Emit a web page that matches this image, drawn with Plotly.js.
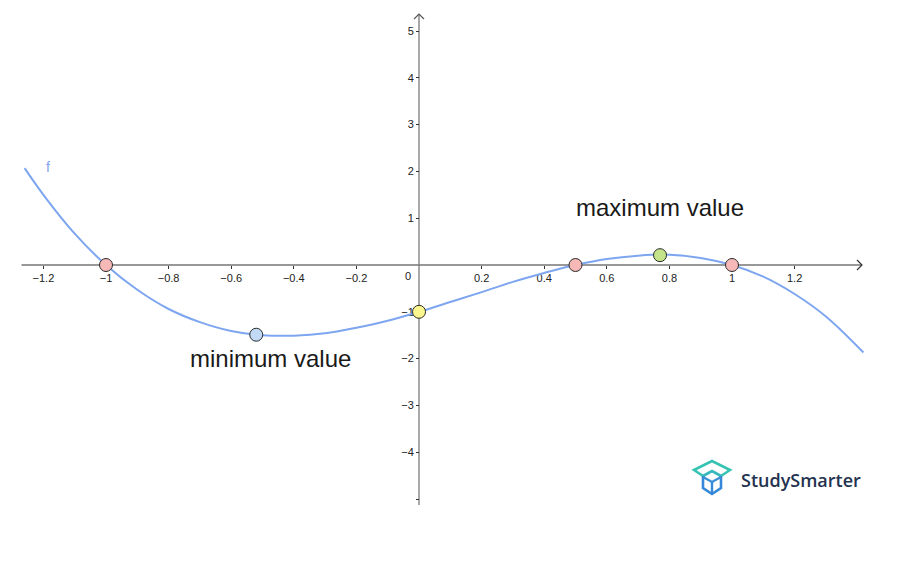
<!DOCTYPE html>
<html>
<head>
<meta charset="utf-8">
<script src="https://cdn.plot.ly/plotly-3.0.1.min.js"></script>
<style>html,body{margin:0;padding:0;background:#fff;}#chart{width:909px;height:574px;}</style>
</head>
<body>
<div id="chart"></div>
<script>
// Curve f
const curveX = [-1.26, -1.2, -1.1, -1.0, -0.9, -0.8, -0.7, -0.6, -0.5, -0.4, -0.3, -0.2, -0.1, 0, 0.1, 0.2, 0.3, 0.4, 0.5, 0.6, 0.7, 0.8, 0.9, 1.0, 1.1, 1.2, 1.3, 1.42];
const curveY = [2.07, 1.50, 0.67, 0.00, -0.53, -0.94, -1.22, -1.41, -1.50, -1.51, -1.46, -1.34, -1.19, -1.00, -0.79, -0.58, -0.36, -0.17, 0.00, 0.13, 0.20, 0.22, 0.15, 0.00, -0.25, -0.62, -1.10, -1.87];

// Highlighted points
const rootX = [-1, 0.5, 1];
const rootY = [0, 0, 0];
const minX = [-0.52];
const minY = [-1.49];
const maxX = [0.77];
const maxY = [0.21];
const interceptX = [0];
const interceptY = [-1];

// Tick labels
const xTicks = [-1.2, -1, -0.8, -0.6, -0.4, -0.2, 0.2, 0.4, 0.6, 0.8, 1, 1.2];
const yTicks = [-5, -4, -3, -2, -1, 1, 2, 3, 4, 5];
const yTickText = ['', '−4', '−3', '−2', '−1', '1', '2', '3', '4', '5'];

const W = 909, H = 574;
const px = v => v / W;
const py = v => 1 - v / H;

const curveColor = '#7ea6f0';
const mk = (x, y, color) => ({
  x: x, y: y, type: 'scatter', mode: 'markers', hoverinfo: 'skip',
  marker: {size: 13, color: color, line: {color: '#2a2a2a', width: 1}}
});

const traces = [
  {x: curveX, y: curveY, type: 'scatter', mode: 'lines',
   line: {color: curveColor, width: 2, shape: 'spline', smoothing: 1}, hoverinfo: 'skip'},
  mk(rootX, rootY, '#f7b8b8'),
  mk(minX, minY, '#c2daf5'),
  mk(maxX, maxY, '#c5e38a'),
  mk(interceptX, interceptY, '#fbf78e')
];

const xr = [-419/313, 490/313];
const yr = [-309/46.8, 265/46.8];

function pxPath(pts, close) {
  let s = '';
  pts.forEach((p, i) => { s += (i ? ' L ' : 'M ') + px(p[0]).toFixed(5) + ',' + py(p[1]).toFixed(5); });
  return s + (close ? ' Z' : '');
}

const shapes = [
  // x axis line
  {type: 'line', xref: 'x', yref: 'y', x0: -1.27, x1: 1.415, y0: 0, y1: 0, line: {color: '#333333', width: 1.2}, layer: 'below'},
  // y axis line
  {type: 'line', xref: 'x', yref: 'y', x0: 0, x1: 0, y0: -5.13, y1: 5.36, line: {color: '#7a7a7a', width: 1.3}, layer: 'below'},
  // arrows
  {type: 'path', xref: 'paper', yref: 'paper', path: pxPath([[857, 260], [862, 265], [857, 270]]), line: {color: '#333333', width: 1.2}},
  {type: 'path', xref: 'paper', yref: 'paper', path: pxPath([[414, 19], [419, 14], [424, 19]]), line: {color: '#555555', width: 1.2}},
  // StudySmarter logo icon: lid flaps (teal)
  {type: 'path', xref: 'paper', yref: 'paper', path: pxPath([[703, 476], [694, 470], [712, 461], [730, 470], [721, 476]]), line: {color: '#36c3b2', width: 2.6}},
  {type: 'path', xref: 'paper', yref: 'paper', path: pxPath([[703, 476], [712, 471], [721, 476]]), line: {color: '#35b9bd', width: 2.6}},
  // box body (blue)
  {type: 'path', xref: 'paper', yref: 'paper', path: pxPath([[703, 476], [703, 488], [712, 494], [721, 488], [721, 476]]), line: {color: '#3688d8', width: 2.6}},
  {type: 'path', xref: 'paper', yref: 'paper', path: pxPath([[703, 477], [712, 482], [721, 477]]), line: {color: '#3a8ed6', width: 2.4}},
  {type: 'path', xref: 'paper', yref: 'paper', path: pxPath([[712, 482], [712, 493]]), line: {color: '#3688d8', width: 2.4}}
];

const annotations = [
  {x: 0, y: 0, xref: 'x', yref: 'y', text: '0', showarrow: false, xshift: -11, yshift: -11,
   font: {family: 'Liberation Sans, Arial, sans-serif', size: 11, color: '#222'}},
  {x: 0.77, y: 1.22, xref: 'x', yref: 'y', text: 'maximum value', showarrow: false,
   font: {family: 'Liberation Sans, Arial, sans-serif', size: 24, color: '#1a1a1a'}},
  {x: -0.476, y: -1.99, xref: 'x', yref: 'y', text: 'minimum value', showarrow: false,
   font: {family: 'Liberation Sans, Arial, sans-serif', size: 24, color: '#1a1a1a'}},
  {x: px(48), y: py(167), xref: 'paper', yref: 'paper', xanchor: 'center', yanchor: 'middle', text: 'f', showarrow: false,
   font: {family: 'Liberation Sans, Arial, sans-serif', size: 14, color: curveColor}},
  {x: px(739), y: py(480), xref: 'paper', yref: 'paper', xanchor: 'left', yanchor: 'middle', text: 'StudySmarter', showarrow: false,
   font: {family: 'Open Sans, sans-serif', size: 18, color: '#23324f', weight: 600}}
];

const tickFont = {family: 'Liberation Sans, Arial, sans-serif', size: 11, color: '#222'};

const layout = {
  width: W, height: H,
  margin: {l: 0, r: 0, t: 0, b: 0, pad: 0},
  paper_bgcolor: '#ffffff', plot_bgcolor: '#ffffff',
  showlegend: false,
  xaxis: {
    range: xr, showgrid: false, zeroline: false, showline: false,
    anchor: 'free', position: (574 - 265) / 574, layer: 'below traces',
    tickmode: 'array', tickvals: xTicks,
    ticks: 'outside', ticklen: 3, tickcolor: '#333', tickwidth: 1,
    tickfont: tickFont, fixedrange: true
  },
  yaxis: {
    range: yr, showgrid: false, zeroline: false, showline: false,
    anchor: 'free', position: 419 / 909, layer: 'below traces',
    tickmode: 'array', tickvals: yTicks, ticktext: yTickText,
    ticks: 'outside', ticklen: 3, tickcolor: '#333', tickwidth: 1,
    tickfont: tickFont, fixedrange: true
  },
  shapes: shapes,
  annotations: annotations
};

Plotly.newPlot('chart', traces, layout, {displayModeBar: false, staticPlot: true});
</script>
</body>
</html>
